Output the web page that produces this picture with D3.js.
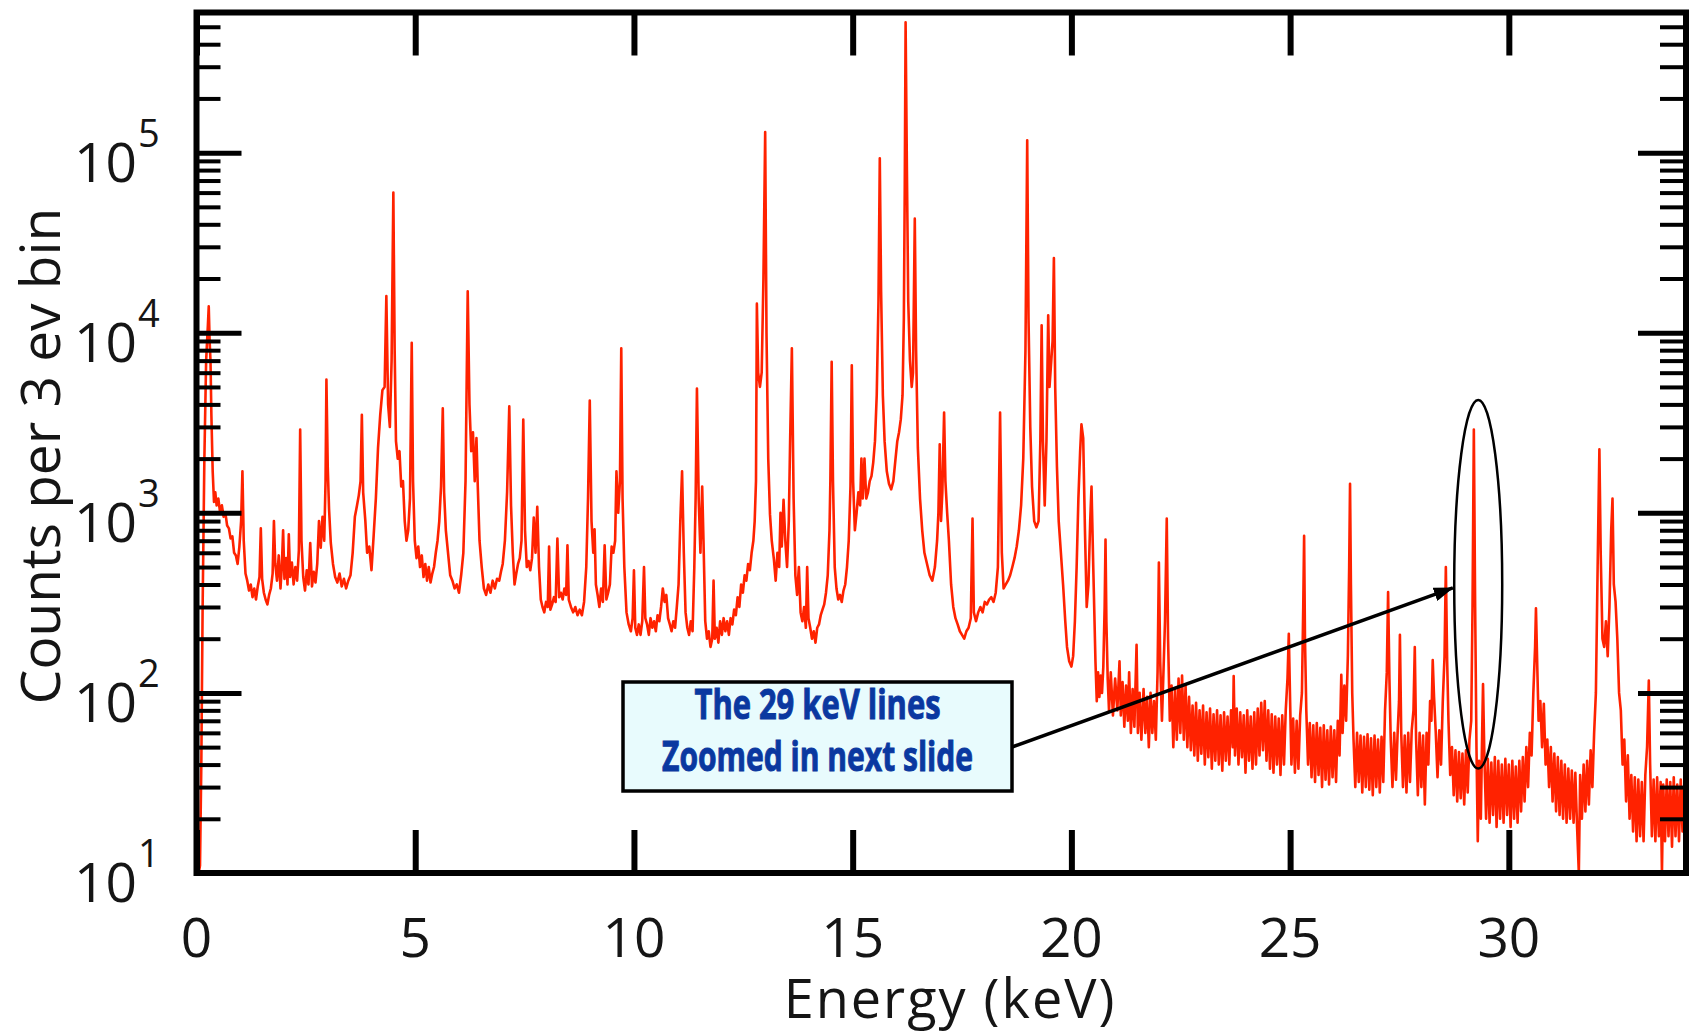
<!DOCTYPE html>
<html>
<head>
<meta charset="utf-8">
<script src="https://cdn.jsdelivr.net/npm/d3@7"></script>
<style>
  body { margin: 0; background: #fff; }
  svg text { font-family: "Open Sans", sans-serif; fill: #151515; }
</style>
</head>
<body>
<svg id="chart" width="1694" height="1034"></svg>
<script>
// spectrum: [energy keV, counts per 3 eV bin]
const traceLow = [[0.02,18],[0.05,10],[0.08,11],[0.11,40],[0.14,300],[0.18,2000],[0.22,7000],[0.26,11000],[0.28,14000],[0.3,9000],[0.32,7000],[0.34,3500],[0.37,1700],[0.4,1150],[0.43,1300],[0.46,1100],[0.5,1200],[0.54,1000],[0.58,1100],[0.62,950],[0.66,1000],[0.7,850],[0.74,820],[0.78,720],[0.82,740],[0.86,600],[0.9,580],[0.94,520],[0.98,650],[1.02,900],[1.05,1700],[1.08,700],[1.12,460],[1.16,420],[1.2,370],[1.24,400],[1.28,340],[1.32,380],[1.36,330],[1.4,390],[1.44,440],[1.47,820],[1.5,430],[1.54,360],[1.58,330],[1.62,310],[1.66,350],[1.7,380],[1.74,460],[1.77,900],[1.8,520],[1.84,420],[1.88,580],[1.92,380],[1.95,500],[1.98,800],[2.01,430],[2.05,560],[2.08,400],[2.11,760],[2.14,440],[2.18,530],[2.22,400],[2.26,500],[2.3,420],[2.34,620],[2.37,2900],[2.4,700],[2.44,440],[2.48,370],[2.52,480],[2.56,400],[2.6,680],[2.64,390],[2.68,470],[2.72,410],[2.76,520],[2.8,900],[2.84,640],[2.88,950],[2.92,700],[2.95,1500],[2.97,5500],[3.0,1800],[3.03,1050],[3.07,680],[3.12,520],[3.17,440],[3.22,410],[3.27,460],[3.32,390],[3.37,430],[3.42,380],[3.47,420],[3.52,450],[3.57,600],[3.62,950],[3.67,1100],[3.71,1250],[3.75,1500],[3.78,3500],[3.81,1300],[3.86,900],[3.9,600],[3.95,650],[4.0,480],[4.05,750],[4.1,1200],[4.15,2300],[4.2,3500],[4.25,4800],[4.3,5000],[4.34,16000],[4.38,4000],[4.42,3000],[4.46,7000],[4.5,60000],[4.53,8000],[4.56,2500],[4.6,2000],[4.64,2200],[4.68,1400],[4.72,1500],[4.76,900],[4.8,700],[4.84,800],[4.88,1200],[4.92,8800],[4.95,1500],[4.99,700],[5.03,560],[5.07,650],[5.11,500],[5.15,580],[5.19,440],[5.23,520],[5.27,420],[5.31,500],[5.35,410],[5.39,460],[5.43,500],[5.47,600],[5.51,700],[5.55,900],[5.59,1400],[5.63,3800],[5.66,1300],[5.7,800],[5.75,600],[5.8,450],[5.85,420],[5.9,380],[5.95,400],[6.0,360],[6.05,450],[6.1,600],[6.15,1500],[6.2,17000],[6.24,4000],[6.28,2200],[6.32,2800],[6.36,1500],[6.4,2600],[6.43,1400],[6.47,700],[6.52,500],[6.57,380],[6.62,350],[6.67,400],[6.72,360],[6.77,420],[6.82,380],[6.87,430],[6.92,420],[6.96,470]];

const traceMid = [[7.0,520],[7.05,700],[7.1,1300],[7.15,3900],[7.19,1100],[7.23,600],[7.27,400],[7.31,460],[7.35,520],[7.39,560],[7.43,700],[7.47,3300],[7.51,800],[7.55,500],[7.59,540],[7.63,480],[7.67,560],[7.71,940],[7.75,600],[7.79,1080],[7.83,500],[7.87,330],[7.91,300],[7.95,280],[7.99,320],[8.03,300],[8.06,650],[8.09,290],[8.13,310],[8.17,340],[8.21,320],[8.25,720],[8.29,340],[8.33,360],[8.37,330],[8.41,380],[8.45,350],[8.48,660],[8.51,330],[8.56,300],[8.61,280],[8.66,300],[8.71,270],[8.76,290],[8.81,270],[8.86,320],[8.91,500],[8.95,1200],[8.99,4200],[9.03,900],[9.07,600],[9.1,810],[9.13,400],[9.17,350],[9.21,300],[9.25,380],[9.29,320],[9.33,660],[9.37,330],[9.41,360],[9.45,400],[9.49,650],[9.53,600],[9.57,700],[9.6,1700],[9.64,1000],[9.68,1500],[9.71,8200],[9.74,1200],[9.78,500],[9.83,280],[9.88,240],[9.93,220],[9.97,260],[10.0,480],[10.03,230],[10.07,210],[10.11,240],[10.15,210],[10.19,250],[10.23,500],[10.26,260],[10.3,240],[10.34,210],[10.38,260],[10.42,230],[10.46,250],[10.5,220],[10.54,270],[10.58,250],[10.62,300],[10.66,380],[10.7,320],[10.74,350],[10.78,260],[10.82,240],[10.86,220],[10.9,250],[10.94,230],[10.98,300],[11.02,400],[11.06,900],[11.1,1700],[11.14,600],[11.18,280],[11.22,230],[11.26,210],[11.3,250],[11.34,220],[11.38,500],[11.41,1200],[11.44,4900],[11.48,1200],[11.52,600],[11.56,1400],[11.59,700],[11.63,250],[11.67,200],[11.71,220],[11.75,180],[11.79,200],[11.82,420],[11.85,200],[11.89,230],[11.93,190],[11.97,250],[12.01,210],[12.05,260],[12.09,220],[12.13,250],[12.17,210],[12.21,260],[12.25,240],[12.29,290],[12.33,270],[12.37,340],[12.41,300],[12.45,400],[12.49,360],[12.53,450],[12.57,420],[12.61,520],[12.65,480],[12.69,600],[12.73,700],[12.76,900],[12.79,1500],[12.81,14500],[12.84,6000],[12.88,5000],[12.92,6000],[12.96,20000],[13.0,130000],[13.03,10000],[13.07,2000],[13.11,980],[13.15,700],[13.2,550],[13.24,420],[13.28,600],[13.32,500],[13.35,1000],[13.38,650],[13.42,1180],[13.46,700],[13.5,500],[13.54,900],[13.57,2500],[13.61,8200],[13.65,1200],[13.69,450],[13.73,350],[13.77,500],[13.81,280],[13.85,250],[13.89,300],[13.93,230],[13.96,500],[13.99,260]];

const traceHigh = [[14.03,230],[14.07,200],[14.11,220],[14.15,190],[14.19,230],[14.23,240],[14.27,270],[14.31,290],[14.35,310],[14.39,360],[14.43,450],[14.47,800],[14.49,1500],[14.52,6900],[14.55,1500],[14.59,500],[14.63,380],[14.67,330],[14.71,350],[14.75,320],[14.79,370],[14.83,400],[14.87,500],[14.91,700],[14.95,1400],[14.98,6600],[15.01,1500],[15.05,800],[15.09,1000],[15.13,1300],[15.17,1100],[15.2,2000],[15.23,1200],[15.27,2000],[15.31,1200],[15.35,1300],[15.39,1500],[15.43,1600],[15.47,1900],[15.51,2500],[15.55,4500],[15.59,15000],[15.62,93000],[15.65,17000],[15.69,4500],[15.73,2500],[15.78,1700],[15.83,1450],[15.88,1350],[15.93,1500],[15.98,2000],[16.02,2500],[16.06,2800],[16.1,3300],[16.14,4500],[16.17,12000],[16.19,60000],[16.21,530000],[16.24,80000],[16.27,15000],[16.31,7000],[16.35,5000],[16.38,6000],[16.42,43000],[16.45,8000],[16.49,2300],[16.54,1200],[16.59,800],[16.64,600],[16.7,520],[16.76,450],[16.82,420],[16.88,500],[16.93,700],[16.96,1000],[16.99,2400],[17.02,900],[17.05,1300],[17.09,3600],[17.12,1500],[17.16,1000],[17.2,700],[17.25,400],[17.3,300],[17.35,260],[17.4,240],[17.45,220],[17.5,210],[17.55,200],[17.6,220],[17.65,230],[17.7,260],[17.74,930],[17.77,280],[17.82,250],[17.87,280],[17.92,300],[17.97,280],[18.02,320],[18.07,310],[18.12,330],[18.17,340],[18.22,320],[18.27,360],[18.32,500],[18.37,3600],[18.41,600],[18.45,380],[18.5,400],[18.55,420],[18.6,450],[18.65,500],[18.7,560],[18.75,650],[18.8,800],[18.85,1100],[18.9,2000],[18.95,8000],[18.99,117000],[19.02,12000],[19.06,3000],[19.1,1400],[19.15,900],[19.2,830],[19.25,900],[19.29,2500],[19.32,11000],[19.35,2500],[19.39,1100],[19.43,2500],[19.47,12500],[19.5,5000],[19.54,7000],[19.57,9000],[19.6,26000],[19.63,5000],[19.67,1800],[19.71,900],[19.76,600],[19.81,400],[19.86,250],[19.9,180],[19.95,150],[20.0,140],[20.04,160],[20.08,250],[20.12,500],[20.16,1200],[20.2,2200],[20.23,3100],[20.27,2600],[20.31,800],[20.35,300],[20.39,400],[20.43,900],[20.46,1400],[20.5,500]];

const traceTail = [[20.55,150],[20.58,90],[20.61,130],[20.64,95],[20.67,125],[20.7,100],[20.73,140],[20.76,300],[20.78,710],[20.8,250],[20.83,120],[20.86,80],[20.9,130],[20.95,75],[21.0,120],[21.05,80],[21.1,150],[21.13,75],[21.17,115],[21.21,65],[21.25,110],[21.29,70],[21.32,130],[21.36,60],[21.4,105],[21.44,65],[21.49,185],[21.52,60],[21.56,100],[21.6,55],[21.65,105],[21.69,60],[21.73,95],[21.77,50],[21.81,100],[21.85,60],[21.89,90],[21.93,55],[21.97,130],[22.0,530],[22.03,150],[22.07,70],[22.1,120],[22.14,250],[22.18,930],[22.21,200],[22.25,70],[22.29,110],[22.33,50],[22.37,105],[22.41,55],[22.45,120],[22.49,60],[22.53,125],[22.57,55],[22.61,110],[22.65,50],[22.69,95],[22.73,48],[22.77,85],[22.81,45],[22.85,88],[22.89,42],[22.93,80],[22.97,46],[23.01,85],[23.05,40],[23.09,78],[23.13,44],[23.17,82],[23.21,38],[23.25,76],[23.29,42],[23.33,80],[23.37,40],[23.41,75],[23.45,37],[23.49,78],[23.53,42],[23.57,74],[23.61,40],[23.65,80],[23.69,50],[23.71,124],[23.74,45],[23.78,82],[23.82,40],[23.86,78],[23.9,44],[23.94,75],[23.98,36],[24.02,80],[24.06,42],[24.1,74],[24.14,38],[24.18,78],[24.22,40],[24.26,82],[24.3,45],[24.34,88],[24.38,48],[24.42,90],[24.46,42],[24.5,80],[24.54,38],[24.58,76],[24.62,36],[24.66,74],[24.7,40],[24.74,72],[24.78,35],[24.82,75],[24.86,40],[24.9,80],[24.94,120],[24.97,213],[25.0,90],[25.03,40],[25.07,72],[25.11,36],[25.15,70],[25.19,38],[25.23,75],[25.27,100],[25.3,300],[25.32,745],[25.34,200],[25.37,80],[25.41,40],[25.45,68],[25.49,34],[25.53,66],[25.57,32],[25.61,68],[25.65,35],[25.69,64],[25.73,30],[25.77,66],[25.81,33],[25.85,62],[25.89,31],[25.93,65],[25.97,34],[26.01,62],[26.05,32],[26.09,70],[26.13,45],[26.17,126],[26.2,60],[26.24,110],[26.28,70],[26.32,160],[26.35,500],[26.37,1450],[26.39,400],[26.42,100],[26.45,55],[26.49,30],[26.53,60],[26.57,32],[26.61,58],[26.65,28],[26.69,57],[26.73,30],[26.77,59],[26.81,29],[26.85,56],[26.89,27],[26.93,58],[26.97,30],[27.01,55],[27.05,28],[27.09,57],[27.13,32],[27.17,80],[27.21,130],[27.24,363],[27.27,120],[27.3,55],[27.34,30],[27.38,60],[27.42,33],[27.46,62],[27.49,90],[27.51,210],[27.54,60],[27.58,30],[27.62,58],[27.66,28],[27.7,60],[27.74,32],[27.78,62],[27.82,80],[27.85,180],[27.88,55],[27.92,27],[27.96,60],[28.0,30],[28.04,58],[28.08,24],[28.12,60],[28.16,40],[28.2,90],[28.23,70],[28.26,152],[28.29,95],[28.33,60],[28.37,34],[28.41,62],[28.45,40],[28.49,90],[28.53,160],[28.56,500],[28.59,150],[28.62,70],[28.66,35],[28.7,50],[28.74,27],[28.78,48],[28.82,25],[28.86,47],[28.9,26],[28.94,46],[28.98,24],[29.02,48],[29.06,28],[29.1,55],[29.14,70],[29.17,300],[29.2,2900],[29.23,300],[29.26,50],[29.29,15],[29.32,42],[29.36,20],[29.39,60],[29.41,112],[29.44,45],[29.48,20],[29.52,43],[29.56,19],[29.6,41],[29.64,21],[29.68,44],[29.72,18],[29.76,42],[29.8,20],[29.84,40],[29.88,19],[29.92,43],[29.96,21],[30.0,40],[30.04,18],[30.08,42],[30.12,20],[30.16,39],[30.2,19],[30.24,42],[30.28,22],[30.32,44],[30.36,25],[30.4,50],[30.44,30],[30.48,60],[30.52,45],[30.56,100],[30.6,180],[30.62,295],[30.65,140],[30.68,70],[30.72,90],[30.76,50],[30.8,87],[30.84,40],[30.88,55],[30.92,30],[30.96,50],[31.0,25],[31.04,46],[31.08,22],[31.12,44],[31.16,21],[31.2,42],[31.24,20],[31.28,40],[31.32,19],[31.36,38],[31.4,20],[31.44,37],[31.48,19],[31.52,36],[31.56,18],[31.6,10],[31.63,35],[31.67,20],[31.71,40],[31.75,22],[31.79,42],[31.83,24],[31.87,48],[31.91,30],[31.95,60],[31.99,100],[32.03,500],[32.07,2250],[32.1,600],[32.14,200],[32.18,180],[32.22,250],[32.26,160],[32.3,300],[32.34,800],[32.37,1200],[32.4,400],[32.44,320],[32.48,200],[32.52,100],[32.56,80],[32.6,40],[32.64,55],[32.68,25],[32.72,45],[32.76,20],[32.8,35],[32.84,17],[32.88,34],[32.92,15],[32.96,33],[33.0,16],[33.04,32],[33.08,15],[33.12,35],[33.16,50],[33.2,117],[33.23,40],[33.27,16],[33.31,33],[33.35,15],[33.39,34],[33.43,16],[33.47,32],[33.5,10],[33.53,31],[33.57,15],[33.61,33],[33.65,16],[33.69,32],[33.73,14],[33.77,34],[33.81,16],[33.85,31],[33.89,15],[33.93,33],[33.97,17],[34.0,30]];

const xTickValues = [0, 5, 10, 15, 20, 25, 30];
const yDecades = [10, 100, 1000, 10000, 100000];
const yExponents = ["1", "2", "3", "4", "5"];

// annotation: ellipse round the 29 keV lines, arrow tip beside it
const ellipseE = 29.3, ellipseTop = 4230, ellipseBottom = 38;
const arrowTip = [28.72, 383];

const svg = d3.select("#chart");

const x = d3.scaleLinear().domain([0, 34.05]).range([196.5, 1686]);
const y = d3.scaleLog().domain([10, 6e5]).range([873, 12.5]);

const plotLeft = x.range()[0], plotRight = x.range()[1];
const plotTop = y.range()[1], plotBottom = y.range()[0];

const defs = svg.append("defs");
defs.append("clipPath").attr("id", "plotClip")
    .append("rect")
    .attr("x", plotLeft).attr("y", plotTop)
    .attr("width", plotRight - plotLeft).attr("height", plotBottom - plotTop);

// spectrum
const spectrum = traceLow.concat(traceMid, traceHigh, traceTail);
const line = d3.line()
    .x(d => x(d[0]))
    .y(d => y(Math.max(d[1], 10)));

svg.append("path")
    .datum(spectrum)
    .attr("clip-path", "url(#plotClip)")
    .attr("d", line)
    .attr("fill", "none")
    .attr("stroke", "#ff2200")
    .attr("stroke-width", 2.6)
    .attr("stroke-linejoin", "round");

// ticks on all four sides, pointing inwards
function styleTicks(g, w) {
    g.select(".domain").remove();
    g.selectAll(".tick text").remove();
    g.selectAll(".tick line").attr("stroke", "#000").attr("stroke-width", w);
}
const minorY = y.ticks().filter(t => !yDecades.includes(t));

svg.append("g").attr("transform", `translate(0,${plotBottom})`)
    .call(d3.axisBottom(x).tickValues(xTickValues).tickSize(-43).tickFormat(""))
    .call(g => styleTicks(g, 6));
svg.append("g").attr("transform", `translate(0,${plotTop})`)
    .call(d3.axisTop(x).tickValues(xTickValues).tickSize(-43).tickFormat(""))
    .call(g => styleTicks(g, 6));
svg.append("g").attr("transform", `translate(${plotLeft},0)`)
    .call(d3.axisLeft(y).tickValues(yDecades).tickSize(-45).tickFormat(""))
    .call(g => styleTicks(g, 5));
svg.append("g").attr("transform", `translate(${plotLeft},0)`)
    .call(d3.axisLeft(y).tickValues(minorY).tickSize(-24).tickFormat(""))
    .call(g => styleTicks(g, 4));
svg.append("g").attr("transform", `translate(${plotRight},0)`)
    .call(d3.axisRight(y).tickValues(yDecades).tickSize(-48).tickFormat(""))
    .call(g => styleTicks(g, 5));
svg.append("g").attr("transform", `translate(${plotRight},0)`)
    .call(d3.axisRight(y).tickValues(minorY).tickSize(-26).tickFormat(""))
    .call(g => styleTicks(g, 4));

// frame
svg.append("rect")
    .attr("x", plotLeft).attr("y", plotTop)
    .attr("width", plotRight - plotLeft).attr("height", plotBottom - plotTop)
    .attr("fill", "none")
    .attr("stroke", "#000")
    .attr("stroke-width", 6);

// x tick labels
svg.selectAll(".xlabel")
    .data(xTickValues)
    .enter().append("text")
    .attr("class", "xlabel")
    .attr("x", d => x(d))
    .attr("y", 957)
    .attr("text-anchor", "middle")
    .attr("font-size", 55)
    .text(d => d);

// y tick labels as 10 with a raised exponent
const ylab = svg.selectAll(".ylabel")
    .data(yDecades)
    .enter().append("g")
    .attr("class", "ylabel")
    .attr("transform", d => `translate(137,${y(d)})`);
ylab.append("text")
    .attr("y", 29)
    .attr("text-anchor", "end")
    .attr("font-size", 55)
    .text("10");
ylab.append("text")
    .attr("x", 1)
    .attr("y", -6)
    .attr("font-size", 38)
    .text((d, i) => yExponents[i]);

// axis titles
svg.append("text")
    .attr("x", 950)
    .attr("y", 1018)
    .attr("text-anchor", "middle")
    .attr("font-size", 54)
    .attr("letter-spacing", 2)
    .text("Energy (keV)");

svg.append("text")
    .attr("transform", "translate(60,456) rotate(-90)")
    .attr("text-anchor", "middle")
    .attr("font-size", 55)
    .text("Counts per 3 ev bin");

// annotation
defs.append("marker")
    .attr("id", "arrowHead")
    .attr("markerUnits", "userSpaceOnUse")
    .attr("viewBox", "0 0 20 14")
    .attr("markerWidth", 20).attr("markerHeight", 14)
    .attr("refX", 19).attr("refY", 7)
    .attr("orient", "auto")
    .append("path")
    .attr("d", "M0,0 L20,7 L0,14 Z")
    .attr("fill", "#000");

const box = { x: 623, y: 682, w: 389, h: 109 };

svg.append("line")
    .attr("x1", box.x + box.w).attr("y1", 747)
    .attr("x2", x(arrowTip[0])).attr("y2", y(arrowTip[1]))
    .attr("stroke", "#000")
    .attr("stroke-width", 3.5)
    .attr("marker-end", "url(#arrowHead)");

svg.append("ellipse")
    .attr("cx", x(ellipseE))
    .attr("cy", (y(ellipseTop) + y(ellipseBottom)) / 2)
    .attr("rx", 24)
    .attr("ry", (y(ellipseBottom) - y(ellipseTop)) / 2)
    .attr("fill", "none")
    .attr("stroke", "#000")
    .attr("stroke-width", 2.5);

svg.append("rect")
    .attr("x", box.x).attr("y", box.y)
    .attr("width", box.w).attr("height", box.h)
    .attr("fill", "#e8fbfd")
    .attr("stroke", "#000")
    .attr("stroke-width", 3.5);

const noteLines = ["The 29 keV lines", "Zoomed in next slide"];
const noteWidths = [246, 311];
svg.selectAll(".note")
    .data(noteLines)
    .enter().append("text")
    .attr("class", "note")
    .attr("x", box.x + box.w / 2)
    .attr("y", (d, i) => 719 + i * 52)
    .attr("text-anchor", "middle")
    .attr("font-family", "'Liberation Sans Narrow', 'Liberation Sans', sans-serif")
    .attr("font-weight", "bold")
    .attr("font-size", 42)
    .attr("textLength", (d, i) => noteWidths[i])
    .attr("lengthAdjust", "spacingAndGlyphs")
    .style("fill", "#0a38a0")
    .style("stroke", "#0a38a0")
    .style("stroke-width", 1)
    .text(d => d);
</script>
</body>
</html>
